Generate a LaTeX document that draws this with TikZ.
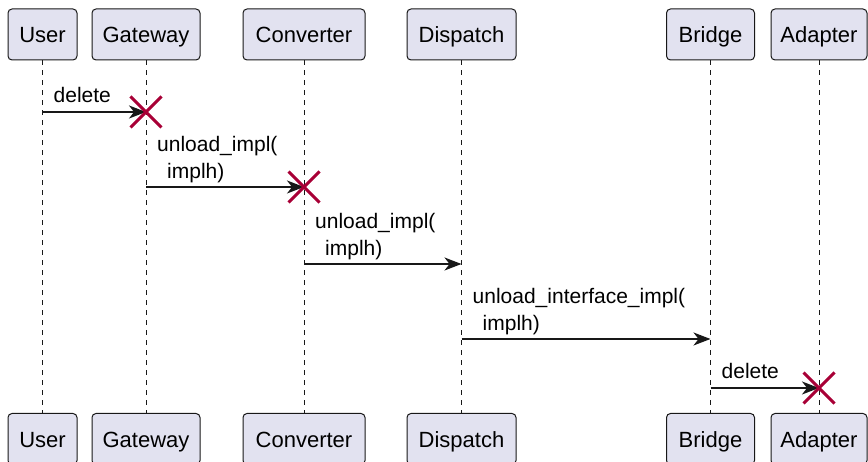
\documentclass[tikz,border=0pt]{standalone}
\usepackage{fontspec}
\setmainfont{Liberation Sans}
\usetikzlibrary{arrows.meta,positioning,shapes.misc}
\definecolor{boxfill}{HTML}{E2E2F0}
\definecolor{boxline}{HTML}{181818}
\definecolor{killred}{HTML}{A80036}

\begin{document}
\begin{tikzpicture}[x=1pt,y=-1pt,
    actor/.style={draw=boxline, fill=boxfill, rounded corners=4pt, line width=1pt,
      minimum height=51pt, inner sep=0pt, text height=17pt, text depth=0pt,
      font=\fontsize{22}{26}\selectfont},
    life/.style={draw=boxline, line width=1pt, dash pattern=on 5pt off 5pt},
    msg/.style={draw=boxline, line width=1.5pt, -{Stealth[length=17pt,width=13pt,inset=5pt]}},
    lbl/.style={font=\fontsize{21}{27}\selectfont, align=left, inner sep=0pt, anchor=base west},
    kill/.style={cross out, draw=killred, line width=3pt, minimum size=28pt, inner sep=0pt}]
  \useasboundingbox (0,0) rectangle (868,462);
  \clip (0,0) rectangle (868,462);
  \foreach \n/\t/\x/\w in {user/User/42.5/69, gate/Gateway/146/108, conv/Converter/304/122,
      disp/Dispatch/461.5/109, brid/Bridge/710.5/88, adap/Adapter/819/96} {
    \node[actor, minimum width=\w pt] (\n-top) at (\x,34.5) {\t};
    \node[actor, minimum width=\w pt] (\n-bot) at (\x,439) {\t};
    \draw[life] (\n-top) -- (\n-bot);
  }
  \coordinate (m1a) at (user-top |- 0,112);
  \coordinate (m1b) at (gate-top |- 0,112);
  \coordinate (m2a) at (gate-top |- 0,187);
  \coordinate (m2b) at (conv-top |- 0,187);
  \coordinate (m3a) at (conv-top |- 0,264);
  \coordinate (m3b) at (disp-top |- 0,264);
  \coordinate (m4a) at (disp-top |- 0,339);
  \coordinate (m4b) at (brid-top |- 0,339);
  \coordinate (m5a) at (brid-top |- 0,388);
  \coordinate (m5b) at (adap-top |- 0,388);
  \draw[msg] (m1a) -- (m1b);
  \draw[msg] (m2a) -- (m2b);
  \draw[msg] (m3a) -- (m3b);
  \draw[msg] (m4a) -- (m4b);
  \draw[msg] (m5a) -- (m5b);
  \node[lbl] (l1) at ([shift={(11,-9)}]m1a) {delete};
  \node[lbl] (l2) at ([shift={(11,-8)}]m2a) {unload\_impl(\\\hspace*{10pt}implh)};
  \node[lbl] (l3) at ([shift={(11,-8)}]m3a) {unload\_impl(\\\hspace*{10pt}implh)};
  \node[lbl] (l4) at ([shift={(11,-8)}]m4a) {unload\_interface\_impl(\\\hspace*{10pt}implh)};
  \node[lbl] (l5) at ([shift={(11,-9)}]m5a) {delete};
  \node[kill] (k1) at (m1b) {};
  \node[kill] (k2) at (m2b) {};
  \node[kill] (k5) at (m5b) {};
\end{tikzpicture}
\end{document}
